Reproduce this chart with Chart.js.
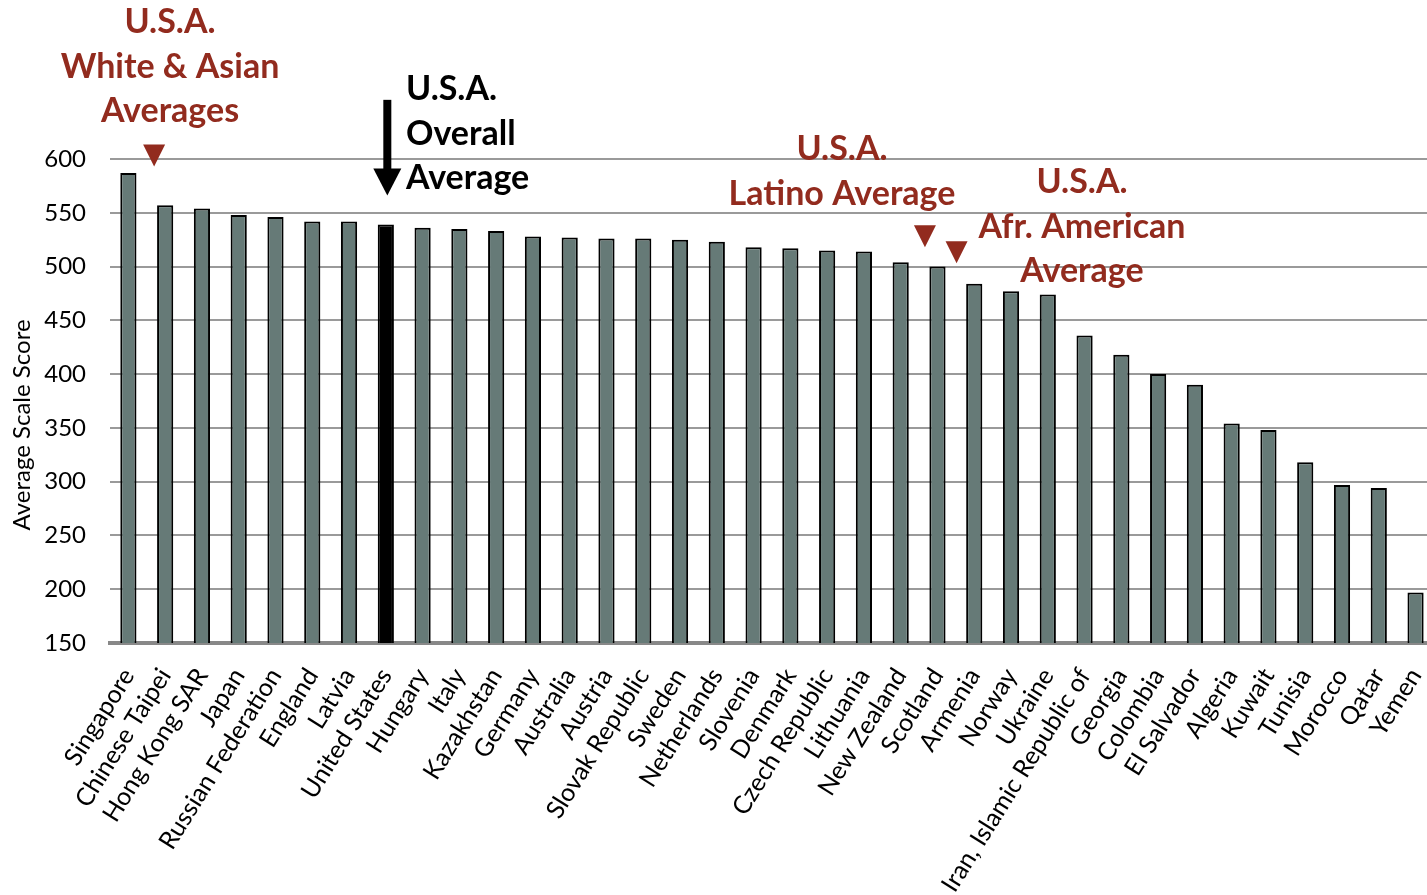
<!DOCTYPE html>
<html>
<head>
<meta charset="utf-8">
<script src="https://cdn.jsdelivr.net/npm/chart.js@4"></script>
<style>
html,body{margin:0;padding:0;background:#fff;overflow:hidden;}
#wrap{width:1453px;height:895px;}
</style>
</head>
<body>
<div id="wrap"><canvas id="c" width="1453" height="895"></canvas></div>
<script>
const categories = ["Singapore","Chinese Taipei","Hong Kong SAR","Japan","Russian Federation","England","Latvia","United States","Hungary","Italy","Kazakhstan","Germany","Australia","Austria","Slovak Republic","Sweden","Netherlands","Slovenia","Denmark","Czech Republic","Lithuania","New Zealand","Scotland","Armenia","Norway","Ukraine","Iran, Islamic Republic of","Georgia","Colombia","El Salvador","Algeria","Kuwait","Tunisia","Morocco","Qatar","Yemen"];
const scores = [587,557,554,548,546,542,542,539,536,535,533,528,527,526,526,525,523,518,517,515,514,504,500,484,477,474,436,418,400,390,354,348,318,297,294,197];
const yTicks = [150,200,250,300,350,400,450,500,550,600];
const highlighted = "United States";

const RED = "#922b1e";
const BAR = "#667a77";
const FONT = "Lato, 'Open Sans', sans-serif";

// annotation markers anchored to the scales (category index, score value at tip)
const triangles = [
  {i: 0.70, v: 593},
  {i: 21.66, v: 518},
  {i: 22.52, v: 503}
];
const arrowSpec = {i: 7, vTop: 655, vTip: 566};
const labels = [
  {lines:["U.S.A.","White & Asian","Averages"], x:170, y:33, align:"center", color:RED},
  {lines:["U.S.A.","Overall","Average"], x:406, y:100, align:"left", color:"#000"},
  {lines:["U.S.A.","Latino Average"], x:842, y:160, align:"center", color:RED},
  {lines:["U.S.A.","Afr. American","Average"], x:1082, y:193, align:"center", color:RED}
];

const annotate = {
  id: "annotate",
  afterDraw(chart) {
    const ctx = chart.ctx, xs = chart.scales.x, ys = chart.scales.y;
    const step = xs.getPixelForValue(1) - xs.getPixelForValue(0);
    const px = i => xs.getPixelForValue(0) + i * step;
    ctx.save();
    ctx.fillStyle = RED;
    triangles.forEach(t => {
      const x = px(t.i), y = ys.getPixelForValue(t.v);
      ctx.beginPath();
      ctx.moveTo(x - 11, y - 22);
      ctx.lineTo(x + 11, y - 22);
      ctx.lineTo(x, y);
      ctx.closePath();
      ctx.fill();
    });
    const ax = px(arrowSpec.i) + 1.5;
    const yTop = ys.getPixelForValue(arrowSpec.vTop);
    const yTip = ys.getPixelForValue(arrowSpec.vTip);
    ctx.fillStyle = "#000";
    ctx.fillRect(ax - 4, yTop, 8, (yTip - 27) - yTop + 1);
    ctx.beginPath();
    ctx.moveTo(ax - 14, yTip - 27);
    ctx.lineTo(ax + 14, yTip - 27);
    ctx.lineTo(ax, yTip);
    ctx.closePath();
    ctx.fill();
    ctx.font = "bold 34px " + FONT;
    ctx.textBaseline = "alphabetic";
    labels.forEach(l => {
      ctx.fillStyle = l.color;
      ctx.textAlign = l.align;
      l.lines.forEach((s, k) => ctx.fillText(s, l.x, l.y + k * 44.5));
    });
    ctx.translate(22, 425);
    ctx.rotate(-Math.PI / 2);
    ctx.font = "24px " + FONT;
    ctx.fillStyle = "#000";
    ctx.textAlign = "center";
    ctx.textBaseline = "middle";
    ctx.fillText("Average Scale Score", 0, 0);
    ctx.restore();
  }
};

new Chart(document.getElementById("c"), {
  type: "bar",
  data: {
    labels: categories,
    datasets: [{
      data: scores,
      backgroundColor: categories.map(c => c === highlighted ? "#000" : BAR),
      borderColor: "#000",
      borderWidth: 2,
      borderSkipped: "bottom",
      barPercentage: 0.44,
      categoryPercentage: 1.0
    }]
  },
  options: {
    responsive: false,
    animation: false,
    layout: {padding: {top: 159, right: 0, left: 0, bottom: 0}},
    plugins: {legend: {display: false}, tooltip: {enabled: false}},
    scales: {
      x: {
        grid: {display: false},
        border: {display: true, color: "#888", width: 4},
        ticks: {
          autoSkip: false, maxRotation: 58, minRotation: 58,
          color: "#000", font: {family: FONT, size: 25}, padding: 12
        },
        afterFit(s) { s.height = 252; }
      },
      y: {
        min: 150, max: 600,
        afterBuildTicks(s) { s.ticks = yTicks.map(v => ({value: v})); },
        grid: {color: "#9a9a9a", lineWidth: 2, drawTicks: false},
        border: {display: false},
        ticks: {color: "#000", font: {family: FONT, size: 24}, padding: 24},
        afterFit(s) { s.width = 110; }
      }
    }
  },
  plugins: [annotate]
});
</script>
</body>
</html>
